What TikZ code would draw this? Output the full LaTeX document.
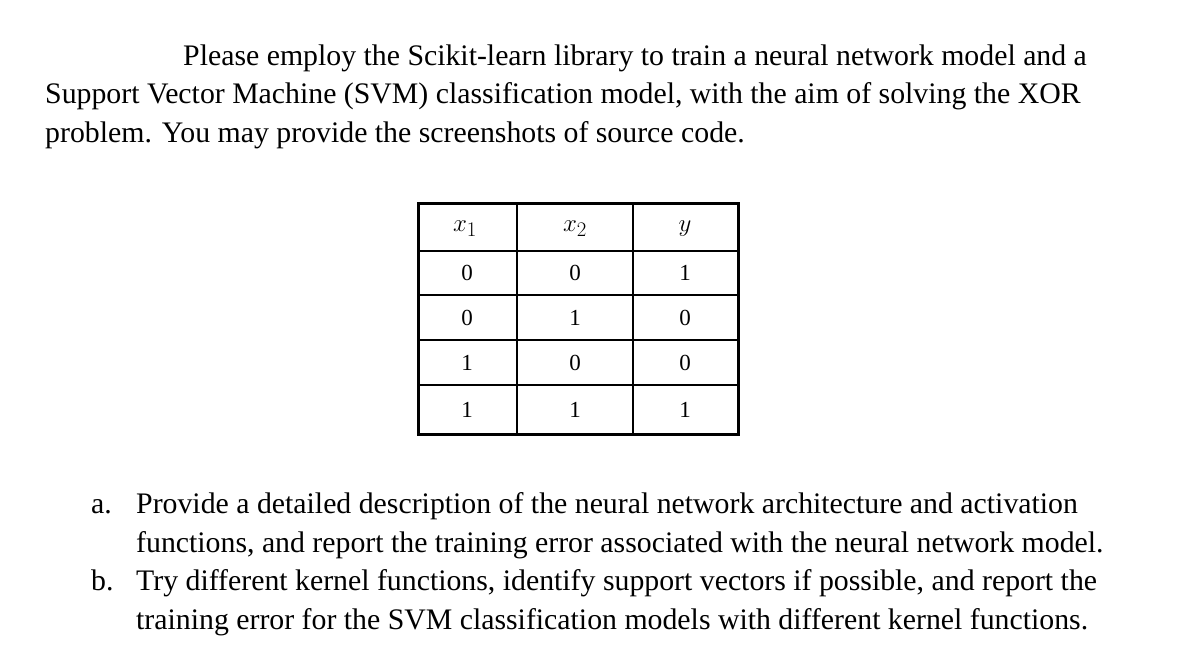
\documentclass[tikz,border=0pt]{standalone}
\usepackage{fontspec}
\setmainfont{Liberation Serif}
\begin{document}
\begin{tikzpicture}[x=1pt,y=-1pt,
  txt/.style={anchor=base west,inner sep=0pt,font=\fontsize{29.8}{34}\selectfont},
  cell/.style={anchor=center,inner sep=0pt,font=\fontsize{23}{26}\selectfont},
  mcell/.style={anchor=center,inner sep=0pt,font=\fontsize{28}{30}\selectfont}]
\useasboundingbox (0,0) rectangle (1194,659);
\node[txt] (l1) at (183,65) {Please employ the Scikit-learn library to train a neural network model and a};
\node[txt] (l2) at (45,103) {Support Vector Machine (SVM) classification model, with the aim of solving the XOR};
\node[txt] (l3) at (45,142) {problem. You may provide the screenshots of source code.};
% table
\draw[line width=1.5] (517,203) -- (517,434) (633,203) -- (633,434);
\foreach \y in {251,295,340,385} \draw[line width=1.5] (418,\y) -- (738,\y);
\draw[line width=3] (418,203) rectangle (738,434);
\node[mcell] (h1) at (465,229) {$x_1$};
\node[mcell] (h2) at (575,229) {$x_2$};
\node[mcell] (h3) at (685,229) {$y$};
\node[cell] at (467,273) {0};\node[cell] at (575,273) {0};\node[cell] at (685,273) {1};
\node[cell] at (467,318) {0};\node[cell] at (575,318) {1};\node[cell] at (685,318) {0};
\node[cell] at (467,363) {1};\node[cell] at (575,363) {0};\node[cell] at (685,363) {0};
\node[cell] at (467,410) {1};\node[cell] at (575,410) {1};\node[cell] at (685,410) {1};
\node[txt] (a) at (91,513) {a.};
\node[txt] (a1) at (136,513) {Provide a detailed description of the neural network architecture and activation};
\node[txt] (a2) at (136,552) {functions, and report the training error associated with the neural network model.};
\node[txt] (b) at (91,590) {b.};
\node[txt] (b1) at (136,590) {Try different kernel functions, identify support vectors if possible, and report the};
\node[txt] (b2) at (136,629) {training error for the SVM classification models with different kernel functions.};
\end{tikzpicture}
\end{document}
